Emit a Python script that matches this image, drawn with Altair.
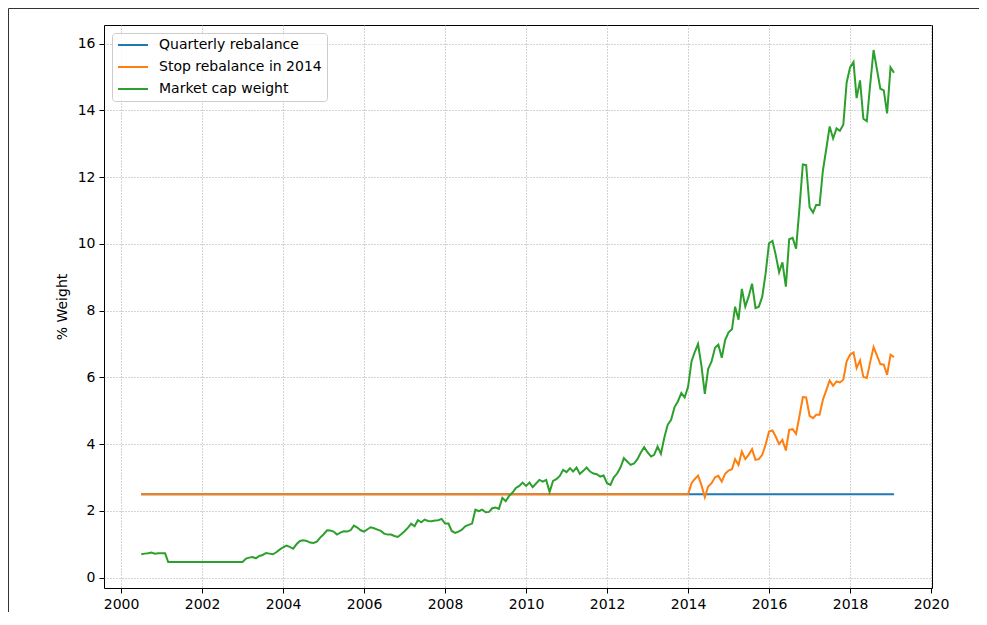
import altair as alt
import pandas as pd

SERIES = ["Quarterly rebalance", "Stop rebalance in 2014", "Market cap weight"]
COLORS = ["#1f77b4", "#ff7f0e", "#2ca02c"]

START_MONTH = "2000-07-01"   # first monthly observation
TARGET_WEIGHT = 2.5          # fixed target weight (%)

# Market cap weight (%), monthly Jul 2000 .. Dec 2013
market_cap_pre2014 = [
    0.70, 0.72, 0.73, 0.75, 0.72, 0.73,                                   # 2000 Jul-Dec
    0.73, 0.73, 0.47, 0.47, 0.47, 0.47, 0.47, 0.47, 0.47, 0.47, 0.47, 0.47,  # 2001
    0.47, 0.47, 0.47, 0.47, 0.47, 0.47, 0.47, 0.47, 0.47, 0.47, 0.47, 0.47,  # 2002
    0.47, 0.57, 0.60, 0.62, 0.58, 0.65, 0.68, 0.74, 0.72, 0.70, 0.76, 0.84,  # 2003
    0.91, 0.96, 0.92, 0.87, 1.00, 1.10, 1.12, 1.10, 1.05, 1.04, 1.08, 1.20,  # 2004
    1.30, 1.42, 1.41, 1.38, 1.29, 1.35, 1.39, 1.38, 1.42, 1.56, 1.50, 1.42,  # 2005
    1.38, 1.45, 1.51, 1.48, 1.44, 1.40, 1.32, 1.29, 1.29, 1.25, 1.22, 1.30,  # 2006
    1.39, 1.50, 1.62, 1.54, 1.72, 1.66, 1.74, 1.70, 1.69, 1.71, 1.72, 1.76,  # 2007
    1.62, 1.62, 1.40, 1.34, 1.38, 1.44, 1.54, 1.58, 1.62, 2.04, 1.99, 2.04,  # 2008
    1.96, 1.97, 2.08, 2.10, 2.06, 2.39, 2.29, 2.45, 2.55, 2.69, 2.75, 2.85,  # 2009
    2.75, 2.85, 2.71, 2.82, 2.93, 2.88, 2.93, 2.57, 2.90, 2.95, 3.05, 3.23,  # 2010
    3.16, 3.28, 3.18, 3.30, 3.11, 3.20, 3.30, 3.18, 3.12, 3.10, 3.03, 3.06,  # 2011
    2.83, 2.78, 3.00, 3.12, 3.30, 3.58, 3.48, 3.38, 3.42, 3.55, 3.75, 3.91,  # 2012
    3.75, 3.63, 3.68, 3.93, 3.71, 4.20, 4.58, 4.73, 5.11, 5.28, 5.53, 5.40,  # 2013
]

# Market cap weight (%), monthly Jan 2014 .. Feb 2019
market_cap_post2014 = [
    5.72, 6.48, 6.75, 7.00, 6.36, 5.51, 6.25, 6.48, 6.89, 6.98, 6.59, 7.12,
    7.35, 7.44, 8.12, 7.73, 8.65, 8.12, 8.42, 8.81, 8.08, 8.12, 8.42, 9.11,
    10.02, 10.09, 9.68, 9.15, 9.45, 8.72, 10.14, 10.18, 9.86, 11.05, 12.38, 12.36,
    11.10, 10.94, 11.17, 11.17, 12.20, 12.86, 13.52, 13.16, 13.46, 13.39, 13.57, 14.83,
    15.29, 15.45, 14.37, 14.90, 13.75, 13.68, 14.76, 15.81, 15.22, 14.65, 14.60, 13.91,
    15.29, 15.13,
]

# Weight (%) when rebalancing stops in 2014, monthly Jan 2014 .. Feb 2019
stop_rebalance_post2014 = [
    2.50, 2.83, 2.95, 3.06, 2.78, 2.41, 2.73, 2.83, 3.01, 3.05, 2.88, 3.11,
    3.21, 3.25, 3.55, 3.38, 3.78, 3.55, 3.68, 3.85, 3.53, 3.55, 3.68, 3.98,
    4.38, 4.41, 4.23, 4.00, 4.13, 3.81, 4.43, 4.45, 4.31, 4.83, 5.41, 5.40,
    4.85, 4.78, 4.88, 4.88, 5.33, 5.62, 5.91, 5.75, 5.88, 5.85, 5.93, 6.48,
    6.68, 6.75, 6.28, 6.51, 6.01, 5.98, 6.45, 6.91, 6.65, 6.40, 6.38, 6.08,
    6.68, 6.61,
]

X_TICK_YEARS = [2000, 2002, 2004, 2006, 2008, 2010, 2012, 2014, 2016, 2018, 2020]
Y_TICKS = [0, 2, 4, 6, 8, 10, 12, 14, 16]

n_pre = len(market_cap_pre2014)
n = n_pre + len(market_cap_post2014)
dates = pd.date_range(START_MONTH, periods=n, freq="MS").strftime("%Y-%m-%d")

values = {
    SERIES[0]: [TARGET_WEIGHT] * n,
    SERIES[1]: [TARGET_WEIGHT] * n_pre + stop_rebalance_post2014,
    SERIES[2]: market_cap_pre2014 + market_cap_post2014,
}
df = pd.concat(
    [pd.DataFrame({"date": dates, "series": s, "weight": v}) for s, v in values.items()],
    ignore_index=True,
)

FONT = "DejaVu Sans"
FS = 14
GRID = dict(grid=True, gridColor="#a8a8a8", gridDash=[1, 2], gridWidth=1)

x_enc = alt.X(
    "date:T",
    scale=alt.Scale(
        type="utc",
        domain=[alt.DateTime(year=1999, month=7, date=31, utc=True),
                alt.DateTime(year=2020, month=1, date=10, utc=True)],
    ),
    axis=alt.Axis(
        values=[alt.DateTime(year=y, month=1, date=1, utc=True) for y in X_TICK_YEARS],
        format="%Y", title=None, domain=False, tickSize=5, tickColor="#000",
        labelPadding=4, labelFontSize=FS, labelFont=FONT, labelColor="#000",
        labelFlush=False, labelOverlap=False, **GRID,
    ),
)
y_enc = alt.Y(
    "weight:Q",
    scale=alt.Scale(domain=[-0.31, 16.56], nice=False, zero=False),
    axis=alt.Axis(
        values=Y_TICKS, title="% Weight", titleFontSize=FS, titleFont=FONT,
        titleFontWeight="normal", titleColor="#000", titlePadding=8,
        domain=False, tickSize=5, tickColor="#000", labelPadding=4,
        labelFontSize=FS, labelFont=FONT, labelColor="#000", **GRID,
    ),
)
color_enc = alt.Color(
    "series:N",
    scale=alt.Scale(domain=SERIES, range=COLORS),
    legend=alt.Legend(
        title=None, orient="none", legendX=8, legendY=8,
        symbolType="stroke", symbolSize=900, symbolStrokeWidth=2,
        clipHeight=14, labelLimit=400,
        labelFontSize=FS, labelFont=FONT, labelColor="#000", labelOffset=10,
        fillColor="rgba(255,255,255,0.8)", strokeColor="#cccccc",
        cornerRadius=3, padding=5, rowPadding=8,
    ),
)

lines = [
    alt.Chart(df).transform_filter(alt.datum.series == s)
    .mark_line(strokeWidth=2)
    .encode(x=x_enc, y=y_enc, color=color_enc)
    for s in SERIES
]

frame_df = pd.DataFrame({"k": [0]})
frame_left = alt.Chart(frame_df).mark_rule(color="#333333", strokeWidth=1).encode(
    x=alt.value(-95.5), y=alt.value(-16.5), y2=alt.value(700))
frame_top = alt.Chart(frame_df).mark_rule(color="#333333", strokeWidth=1).encode(
    x=alt.value(-95.5), x2=alt.value(1000), y=alt.value(-16.5))

chart = (
    alt.layer(*lines, frame_left, frame_top)
    .properties(
        width=828, height=563,
        autosize=alt.AutoSizeParams(type="none"),
        padding={"left": 96, "top": 17, "right": 47, "bottom": 24},
        background="white",
    )
    .configure_view(stroke="#000000", strokeWidth=1)
)

chart.save("out.html", embed_options={"renderer": "svg", "actions": False})
